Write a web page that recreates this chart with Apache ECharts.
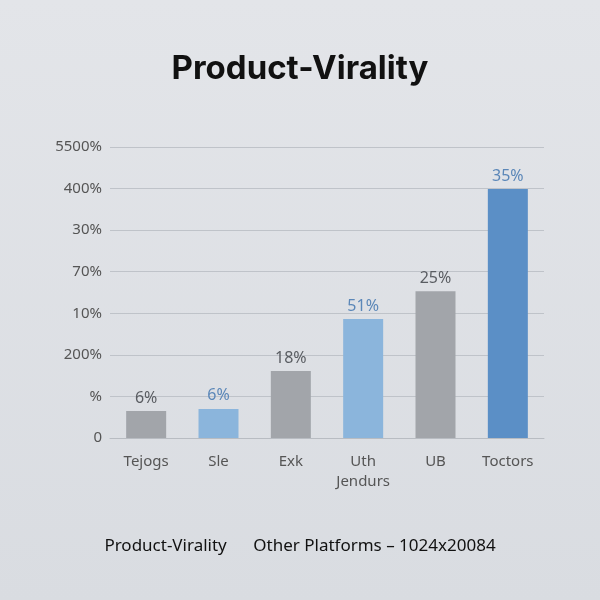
<!DOCTYPE html>
<html><head><meta charset="utf-8">
<script src="https://cdn.jsdelivr.net/npm/echarts@6/dist/echarts.min.js"></script>
<style>html,body{margin:0;padding:0;background:#dfe2e7;}#c{width:600px;height:600px;}</style>
</head><body><div id="c"></div>
<script>
const categories = ["Tejogs","Sle","Exk","Uth\nJendurs","UB","Toctors"];
const values = [0.65, 0.70, 1.61, 2.86, 3.53, 5.99];
const barLabels = ["6%","6%","18%","51%","25%","35%"];
const tickLabels = ["0","%","200%","10%","70%","30%","400%","5500%"];
const barColors = ["#a2a5aa","#8bb5dc","#a2a5aa","#8bb5dc","#a2a5aa","#5b8fc6"];
const labelColors = ["#5a5d62","#5b87b8","#5a5d62","#5b87b8","#5a5d62","#5b87b8"];
const chart = echarts.init(document.getElementById('c'));
chart.setOption({
  backgroundColor: {type:'linear',x:0,y:0,x2:0,y2:1,colorStops:[{offset:0,color:'#e3e5e9'},{offset:1,color:'#d9dce1'}]},
  title: {text:'Product-Virality', left:'center', top:48, textStyle:{fontFamily:'Inter',fontSize:33,fontWeight:'bold',color:'#111'}},
  grid: {left:110, right:56, top:147, bottom:162},
  xAxis: {type:'category', data:categories,
    axisLine:{lineStyle:{color:'#b8bcc2'}}, axisTick:{show:false},
    axisLabel:{interval:0,color:'#555',fontSize:15,fontFamily:'Noto Sans',margin:14,lineHeight:20}},
  yAxis: {type:'value', min:0, max:7, interval:1,
    axisLabel:{color:'#555',fontSize:15,fontFamily:'Noto Sans',margin:8,formatter:v=>tickLabels[v]},
    splitLine:{lineStyle:{color:'#bfc3c9'}}, axisLine:{show:false}},
  series: [{type:'bar', barWidth:40,
    data: values.map((v,i)=>({value:v,itemStyle:{color:barColors[i]},
      label:{show:true,position:'top',formatter:barLabels[i],color:labelColors[i],fontSize:16,fontFamily:'Noto Sans'}}))}],
  graphic: [{type:'text', left:'center', top:538,
    style:{text:'Product-Virality      Other Platforms – 1024x20084', fontSize:17, fontFamily:'Noto Sans', fill:'#111'}}]
});
</script></body></html>
